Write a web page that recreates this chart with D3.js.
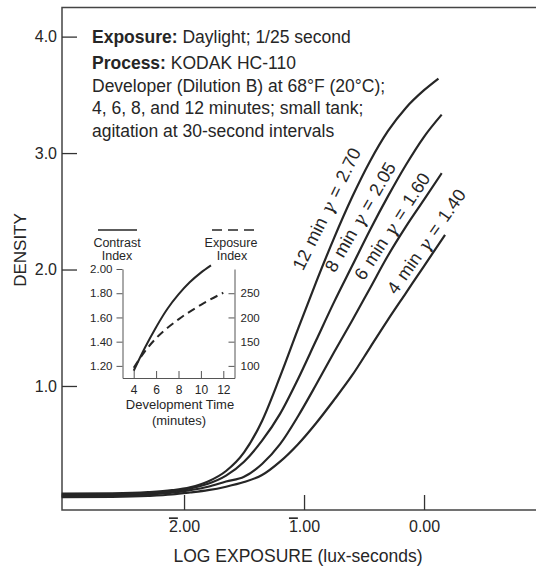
<!DOCTYPE html>
<html>
<head>
<meta charset="utf-8">
<script src="https://cdnjs.cloudflare.com/ajax/libs/d3/7.8.5/d3.min.js"></script>
<style>
  body { margin: 0; background: #fff; }
  svg { display: block; font-family: "Liberation Sans", Arial, sans-serif; }
</style>
</head>
<body>
<svg id="chart" width="536" height="567"></svg>
<script>
// characteristic curves: [log exposure, density]
var curve12 = [[-3.02, 0.075], [-2.6, 0.078], [-2.3, 0.088], [-2.1, 0.105], [-1.95, 0.13], [-1.8, 0.18],
               [-1.65, 0.27], [-1.5, 0.43], [-1.35, 0.70], [-1.2, 1.08], [-1.05, 1.49], [-0.9, 1.89],
               [-0.75, 2.27], [-0.6, 2.62], [-0.45, 2.93], [-0.3, 3.19], [-0.15, 3.39], [0.0, 3.54], [0.12, 3.64]];
var curve8 = [[-3.02, 0.065], [-2.6, 0.068], [-2.3, 0.078], [-2.1, 0.095], [-1.95, 0.12], [-1.8, 0.16],
              [-1.65, 0.23], [-1.5, 0.35], [-1.35, 0.53], [-1.2, 0.76], [-1.05, 1.06], [-0.9, 1.39],
              [-0.75, 1.72], [-0.6, 2.03], [-0.45, 2.34], [-0.3, 2.63], [-0.15, 2.90], [0.0, 3.14], [0.147, 3.33]];
var curve6 = [[-3.02, 0.055], [-2.6, 0.058], [-2.3, 0.068], [-2.1, 0.083], [-1.95, 0.105], [-1.8, 0.135],
              [-1.65, 0.18], [-1.5, 0.22], [-1.35, 0.33], [-1.2, 0.50], [-1.05, 0.74], [-0.9, 1.01],
              [-0.75, 1.29], [-0.6, 1.56], [-0.45, 1.84], [-0.3, 2.12], [-0.15, 2.37], [0.0, 2.60], [0.147, 2.827]];
var curve4 = [[-3.02, 0.045], [-2.6, 0.048], [-2.3, 0.056], [-2.1, 0.068], [-1.95, 0.085], [-1.8, 0.105],
              [-1.65, 0.135], [-1.5, 0.175], [-1.35, 0.235], [-1.2, 0.35], [-1.05, 0.50], [-0.9, 0.68],
              [-0.75, 0.88], [-0.6, 1.09], [-0.45, 1.33], [-0.3, 1.57], [-0.15, 1.80], [0.0, 2.03], [0.175, 2.297]];
var curveNames = ["12 min", "8 min", "6 min", "4 min"];
var gammas = ["2.70", "2.05", "1.60", "1.40"];
var densityTicks = [1, 2, 3, 4];
var logTicks = [-2, -1, 0];

// inset: development time vs contrast / exposure index
var devTime = [4, 5, 6, 7, 8, 9, 10, 10.9];
var contrastIndex = [1.16, 1.35, 1.52, 1.67, 1.79, 1.89, 1.97, 2.03];
var devTimeEI = [4, 5, 6, 8, 10, 12];
var exposureIndex = [96, 130, 157, 196, 226, 251];
var timeTicks = [4, 6, 8, 10, 12];
var ciTicks = [1.2, 1.4, 1.6, 1.8, 2.0];
var eiTicks = [100, 150, 200, 250];

var ink = "#262626";
var svg = d3.select("#chart");

var x = d3.scaleLinear().domain([-3.017, 0.933]).range([62, 536]);
var y = d3.scaleLinear().domain([-0.065, 4.25]).range([510, 7.5]);

// open frame (no right side)
svg.append("path")
    .attr("d", "M536,7.5H62V510H536")
    .attr("fill", "none")
    .attr("stroke", "#444")
    .attr("stroke-width", 1.5);

var yAxis = svg.append("g")
    .attr("transform", "translate(62,0)")
    .call(d3.axisLeft(y).tickValues(densityTicks).tickSizeInner(-15).tickSizeOuter(0)
          .tickPadding(5).tickFormat(d3.format(".1f")));
yAxis.select(".domain").remove();

var xAxis = svg.append("g")
    .attr("transform", "translate(0,510)")
    .call(d3.axisBottom(x).tickValues(logTicks).tickSizeInner(-15).tickSizeOuter(0).tickPadding(11));
xAxis.select(".domain").remove();

// bar notation for negative characteristics
xAxis.selectAll(".tick text").each(function(d) {
  var t = d3.select(this).text(null);
  if (d < 0) {
    t.append("tspan").style("text-decoration", "overline").text(String(-d));
    t.append("tspan").text(".00");
  } else {
    t.text("0.00");
  }
});

[yAxis, xAxis].forEach(function(g) {
  g.attr("font-family", null).attr("font-size", 16);
  g.selectAll("line").attr("stroke", "#333").attr("stroke-width", 1.3);
  g.selectAll("text").attr("fill", ink);
});

svg.append("text")
    .attr("transform", "translate(26,250) rotate(-90)")
    .attr("text-anchor", "middle")
    .attr("font-size", 17)
    .attr("fill", ink)
    .text("DENSITY");

svg.append("text")
    .attr("x", 298).attr("y", 562)
    .attr("text-anchor", "middle")
    .attr("font-size", 17.5)
    .attr("fill", ink)
    .text("LOG EXPOSURE (lux-seconds)");

// main curves
var line = d3.line()
    .x(function(d) { return x(d[0]); })
    .y(function(d) { return y(d[1]); })
    .curve(d3.curveMonotoneX);

svg.selectAll(".hd")
    .data([curve12, curve8, curve6, curve4])
    .enter().append("path")
    .attr("class", "hd")
    .attr("d", line)
    .attr("fill", "none")
    .attr("stroke", ink)
    .attr("stroke-width", 2.2);

// rotated curve labels, anchored in data coords
var labelAt = [[-0.81, 2.52, -64], [-0.53, 2.45, -60], [-0.265, 2.37, -57], [0.02, 2.24, -55]];
curveNames.forEach(function(name, i) {
  var p = labelAt[i];
  var t = svg.append("text")
      .attr("transform", "translate(" + x(p[0]) + "," + y(p[1]) + ") rotate(" + p[2] + ")")
      .attr("text-anchor", "middle")
      .attr("dominant-baseline", "central")
      .attr("font-size", 18)
      .attr("word-spacing", 2)
      .attr("fill", ink)
      .style("white-space", "pre");
  t.append("tspan").text(name + " ");
  t.append("tspan").attr("font-style", "italic").attr("font-family", "DejaVu Serif").text("\u03b3");
  t.append("tspan").text(" = " + gammas[i]);
});

// process notes, one text per line
var noteLines = [
  ["Exposure:", " Daylight; 1/25 second", 43],
  ["Process:", " KODAK HC-110", 68.5],
  ["", "Developer (Dilution B) at 68\u00b0F (20\u00b0C);", 91.5],
  ["", "4, 6, 8, and 12 minutes; small tank;", 114],
  ["", "agitation at 30-second intervals", 136.5]
];
noteLines.forEach(function(l) {
  var t = svg.append("text")
      .attr("x", 92).attr("y", l[2])
      .attr("font-size", 17.5)
      .attr("fill", ink)
      .style("white-space", "pre");
  if (l[0]) t.append("tspan").attr("font-weight", "bold").text(l[0]);
  t.append("tspan").text(l[1]);
});

// ---- inset ----
var xi = d3.scaleLinear().domain([3, 13]).range([122.5, 234.5]);
var yi = d3.scaleLinear().domain([1.1, 2.0]).range([378, 269]);
var ye = d3.scaleLinear().domain([75, 300]).range([378, 269]);

var inset = svg.append("g");
var iLeft = inset.append("g").attr("transform", "translate(122.5,0)")
    .call(d3.axisLeft(yi).tickValues(ciTicks).tickSizeInner(6).tickSizeOuter(0)
          .tickPadding(4).tickFormat(d3.format(".2f")));
var iRight = inset.append("g").attr("transform", "translate(234.5,0)")
    .call(d3.axisRight(ye).tickValues(eiTicks).tickSizeInner(-6).tickSizeOuter(0).tickPadding(6));
var iBottom = inset.append("g").attr("transform", "translate(0,378)")
    .call(d3.axisBottom(xi).tickValues(timeTicks).tickSizeInner(-7).tickSizeOuter(0).tickPadding(7));

[iLeft, iRight, iBottom].forEach(function(g) {
  g.attr("font-family", null).attr("font-size", 11.5);
  g.selectAll("line, path").attr("stroke", "#555").attr("stroke-width", 1);
  g.selectAll("text").attr("fill", ink);
});
iBottom.selectAll("text").attr("font-size", 12);

inset.append("path")
    .datum(d3.zip(devTime, contrastIndex))
    .attr("d", d3.line().x(function(d) { return xi(d[0]); }).y(function(d) { return yi(d[1]); })
          .curve(d3.curveMonotoneX))
    .attr("fill", "none").attr("stroke", ink).attr("stroke-width", 2);

inset.append("path")
    .datum(d3.zip(devTimeEI, exposureIndex))
    .attr("d", d3.line().x(function(d) { return xi(d[0]); }).y(function(d) { return ye(d[1]); })
          .curve(d3.curveMonotoneX))
    .attr("fill", "none").attr("stroke", ink).attr("stroke-width", 2)
    .attr("stroke-dasharray", "8,5");

// inset legend
inset.append("line").attr("x1", 98).attr("x2", 137).attr("y1", 230).attr("y2", 230)
    .attr("stroke", ink).attr("stroke-width", 1.5);
inset.append("line").attr("x1", 212).attr("x2", 255).attr("y1", 230).attr("y2", 230)
    .attr("stroke", ink).attr("stroke-width", 1.5).attr("stroke-dasharray", "10,6");

var legendText = [["Contrast", 117, 247], ["Index", 117, 260], ["Exposure", 231, 247], ["Index", 232, 260],
                  ["Development Time", 180, 409], ["(minutes)", 179, 425]];
legendText.forEach(function(l, i) {
  inset.append("text")
      .attr("x", l[1]).attr("y", l[2])
      .attr("text-anchor", "middle")
      .attr("font-size", i < 4 ? 12.5 : 13)
      .attr("fill", ink)
      .text(l[0]);
});
</script>
</body>
</html>
